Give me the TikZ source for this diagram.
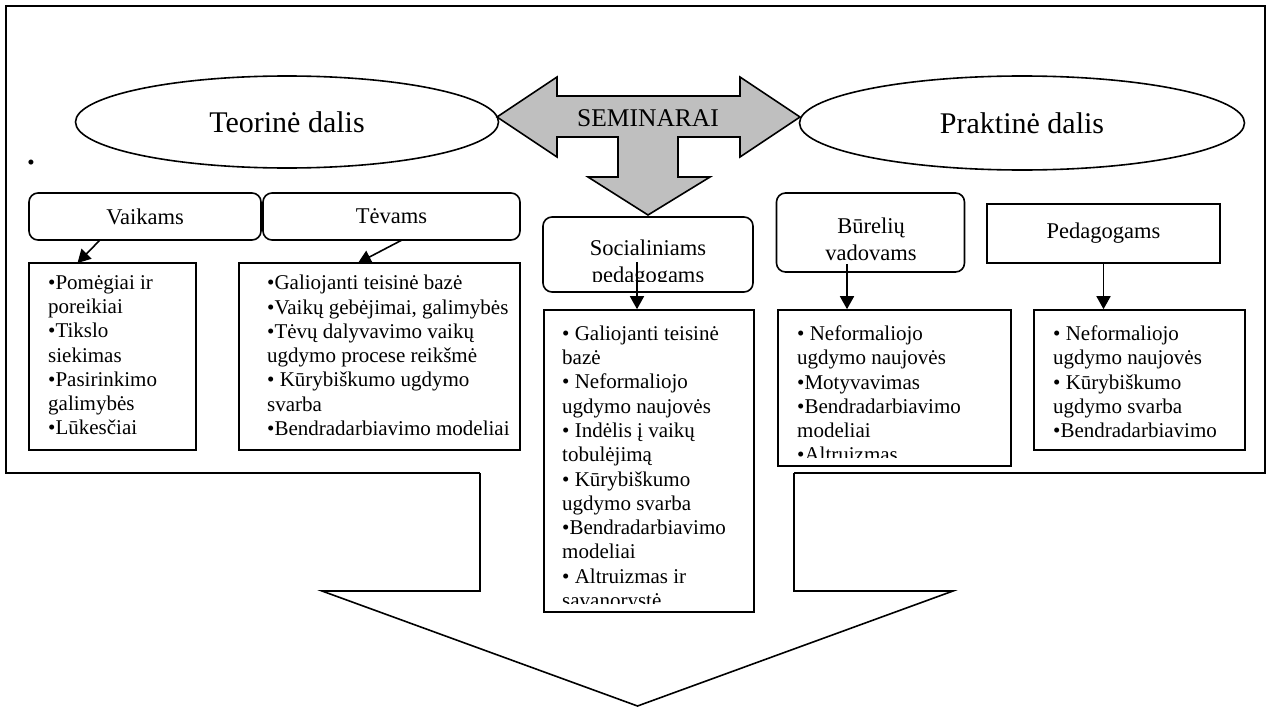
\documentclass[tikz,border=0pt]{standalone}
\usepackage{fontspec}
\setmainfont{Liberation Serif}
\usetikzlibrary{shapes.geometric,arrows.meta}
\begin{document}
\begin{tikzpicture}[x=1pt,y=-1pt,
  box/.style={draw,line width=1.6pt,inner sep=0pt},
  rbox/.style={box,rounded corners=9pt},
  oval/.style={draw,ellipse,line width=1.6pt,inner sep=0pt,font=\fontsize{30}{34}\selectfont},
  head/.style={font=\fontsize{22.5}{26.5}\selectfont,align=center,inner sep=0pt},
  items/.style={font=\fontsize{21}{24.3}\selectfont,align=left,anchor=north west,inner sep=0pt},
  conn/.style={line width=1.6pt,-{Triangle[width=14pt,length=13pt]}}]

\useasboundingbox (0,0) rectangle (1268,709);

% frame and the big arrow below it
\draw[line width=1.6pt] (480,473) -- (6,473) -- (6,6) -- (1265,6) -- (1265,473) -- (794,473);
\draw[line width=1.6pt] (480,473) -- (480,591) -- (322,591) -- (637.5,706) -- (953,591) -- (794,591) -- (794,473);


\node[oval,minimum width=423pt,minimum height=92pt] (teor) at (287,122) {Teorinė dalis};
\node[oval,minimum width=445pt,minimum height=94pt] (prakt) at (1022,123) {Praktinė dalis};

\draw[line width=1.6pt,fill=gray!50] (497,117) -- (557,77) -- (557,96) -- (740,96) -- (740,77) -- (800,117)
  -- (740,157) -- (740,137) -- (678,137) -- (678,177) -- (710,177) -- (648,215) -- (588,177)
  -- (618,177) -- (618,137) -- (557,137) -- (557,157) -- cycle;
\node[font=\fontsize{25.5}{28}\selectfont,inner sep=0pt] (sem) at (648,118) {SEMINARAI};

\node[font=\fontsize{21}{24}\selectfont,inner sep=0pt] (dot) at (31,165) {•};


% heading boxes
\node[rbox,head,minimum width=232pt,minimum height=47pt] (vaik) at (145,216.5) {Vaikams};
\node[rbox,head,minimum width=257pt,minimum height=47pt] (tev) at (391.5,216.5) {Tėvams};
\node[rbox,minimum width=210pt,minimum height=75pt] (soc) at (648,254.5) {};
\node[rbox,minimum width=188pt,minimum height=79pt] (bur) at (870.5,232.5) {};
\node[box,head,minimum width=233pt,minimum height=59pt] (ped) at (1103.5,233.5) {Pedagogams};

\begin{scope}
\clip (543,217) rectangle (753,281);
\node[head,anchor=north] (soctxt) at (648,240) {Socialiniams\\pedagogams};
\end{scope}
\node[head,anchor=north] (burtxt) at (871,218) {Būrelių\\vadovams};


% list boxes
\node[box,minimum width=167pt,minimum height=187pt] (vaikl) at (112.5,356.5) {};
\node[box,minimum width=281pt,minimum height=187pt] (tevl) at (379.5,356.5) {};
\node[box,minimum width=210pt,minimum height=302pt] (socl) at (649,461) {};
\node[box,minimum width=233pt,minimum height=156pt] (burl) at (894.5,388) {};
\node[box,minimum width=211pt,minimum height=140pt] (pedl) at (1139.5,380) {};

\node[items] (vaiktxt) at (48,275) {•Pomėgiai ir\\poreikiai\\•Tikslo\\siekimas\\•Pasirinkimo\\galimybės\\•Lūkesčiai};
\node[items] (tevtxt) at (267,275) {•Galiojanti teisinė bazė\\•Vaikų gebėjimai, galimybės\\•Tėvų dalyvavimo vaikų\\ugdymo procese reikšmė\\• Kūrybiškumo ugdymo\\svarba\\•Bendradarbiavimo modeliai};
\begin{scope}
\clip (544,310) rectangle (754,603);
\node[items] (socltxt) at (562,325.5) {• Galiojanti teisinė\\bazė\\• Neformaliojo\\ugdymo naujovės\\• Indėlis į vaikų\\tobulėjimą\\• Kūrybiškumo\\ugdymo svarba\\•Bendradarbiavimo\\modeliai\\• Altruizmas ir\\savanorystė};
\end{scope}
\begin{scope}
\clip (778,310) rectangle (1011,457);
\node[items] (burltxt) at (797,325.5) {• Neformaliojo\\ugdymo naujovės\\•Motyvavimas\\•Bendradarbiavimo\\modeliai\\•Altruizmas};
\end{scope}
\node[items] (pedltxt) at (1053,325.5) {• Neformaliojo\\ugdymo naujovės\\• Kūrybiškumo\\ugdymo svarba\\•Bendradarbiavimo};


% arrows
\coordinate (va) at (100,240);
\coordinate (vb) at (77.5,263);
\coordinate (ta) at (402,240);
\coordinate (tb) at (358,263);
\coordinate (sa) at (637,262);
\coordinate (ba) at (847,264);
\draw[conn] (va) -- (vb);
\draw[conn] (ta) -- (tb);
\draw[conn] (sa) -- (sa |- socl.north);
\draw[conn] (ba) -- (ba |- burl.north);
\draw[conn] (ped.south) -- (pedl.north -| ped.south);

\end{tikzpicture}
\end{document}
